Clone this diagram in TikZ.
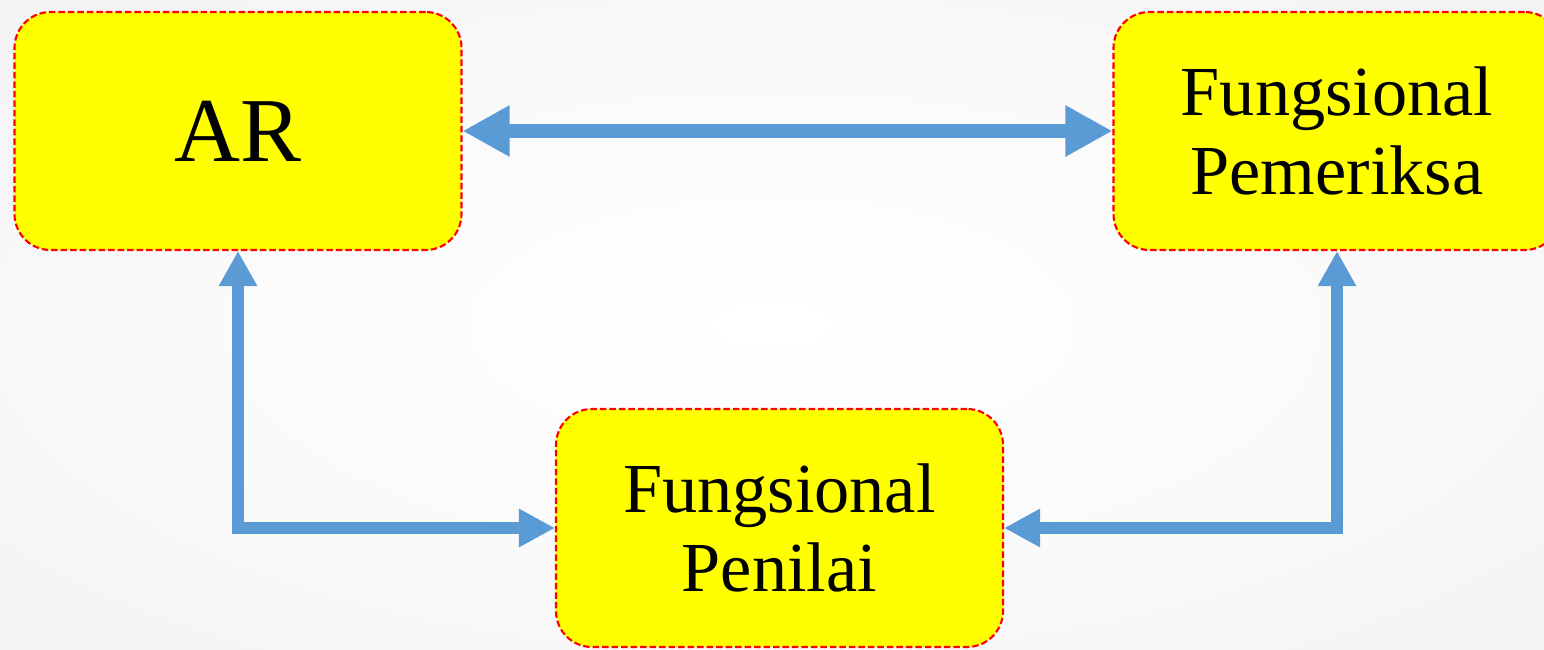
\documentclass[tikz,border=0pt]{standalone}
\usepackage{fontspec}
\setmainfont{Liberation Serif}
\usepackage{xcolor}
\usepackage{tikz}
\usetikzlibrary{arrows.meta}
\definecolor{linkblue}{HTML}{5B9BD5}
\definecolor{unityellow}{HTML}{FFFF00}
\definecolor{unitred}{HTML}{FF0000}
\pgfdeclareradialshading{backdrop}{\pgfpoint{0bp}{0bp}}{color(0bp)=(white); color(20bp)=(white!98!black); color(72bp)=(white!89!black)}
\tikzset{
    unit/.style={rectangle, rounded corners=0.36cm, draw=unitred, fill=unityellow, line width=0.6pt, dash pattern=on 1.85pt off 0.85pt, minimum width=4.47cm, minimum height=2.38cm, align=center, inner sep=0pt, font=\fontsize{20}{22.5}\selectfont},
    link/.style={draw=linkblue, line width=0.14cm, {Triangle[length=0.47cm, width=0.48cm]}-{Triangle[length=0.47cm, width=0.48cm]}},
    sidelink/.style={draw=linkblue, line width=0.12cm, {Triangle[length=0.35cm, width=0.36cm]}-{Triangle[length=0.36cm, width=0.36cm]}}
}
\begin{document}
\begin{tikzpicture}
    \useasboundingbox (0,0) rectangle (15.44,6.49);
    \clip (0,0) rectangle (15.44,6.49);
    % Background
    \shade[shading=backdrop] (0,0) rectangle (15.44,6.49);
    % Units
    \node[unit, font=\fontsize{26}{30}\selectfont] (ar) at (2.38,5.18) {AR};
    \node[unit] (pemeriksa) at (13.37,5.18) {Fungsional\\Pemeriksa};
    \node[unit] (penilai) at (7.795,1.21) {Fungsional\\Penilai};
    % Links
    \draw[link] (ar.east) -- (pemeriksa.west);
    \draw[sidelink] (ar.south) |- (penilai.west);
    \draw[sidelink] (pemeriksa.south) |- (penilai.east);
\end{tikzpicture}
\end{document}
